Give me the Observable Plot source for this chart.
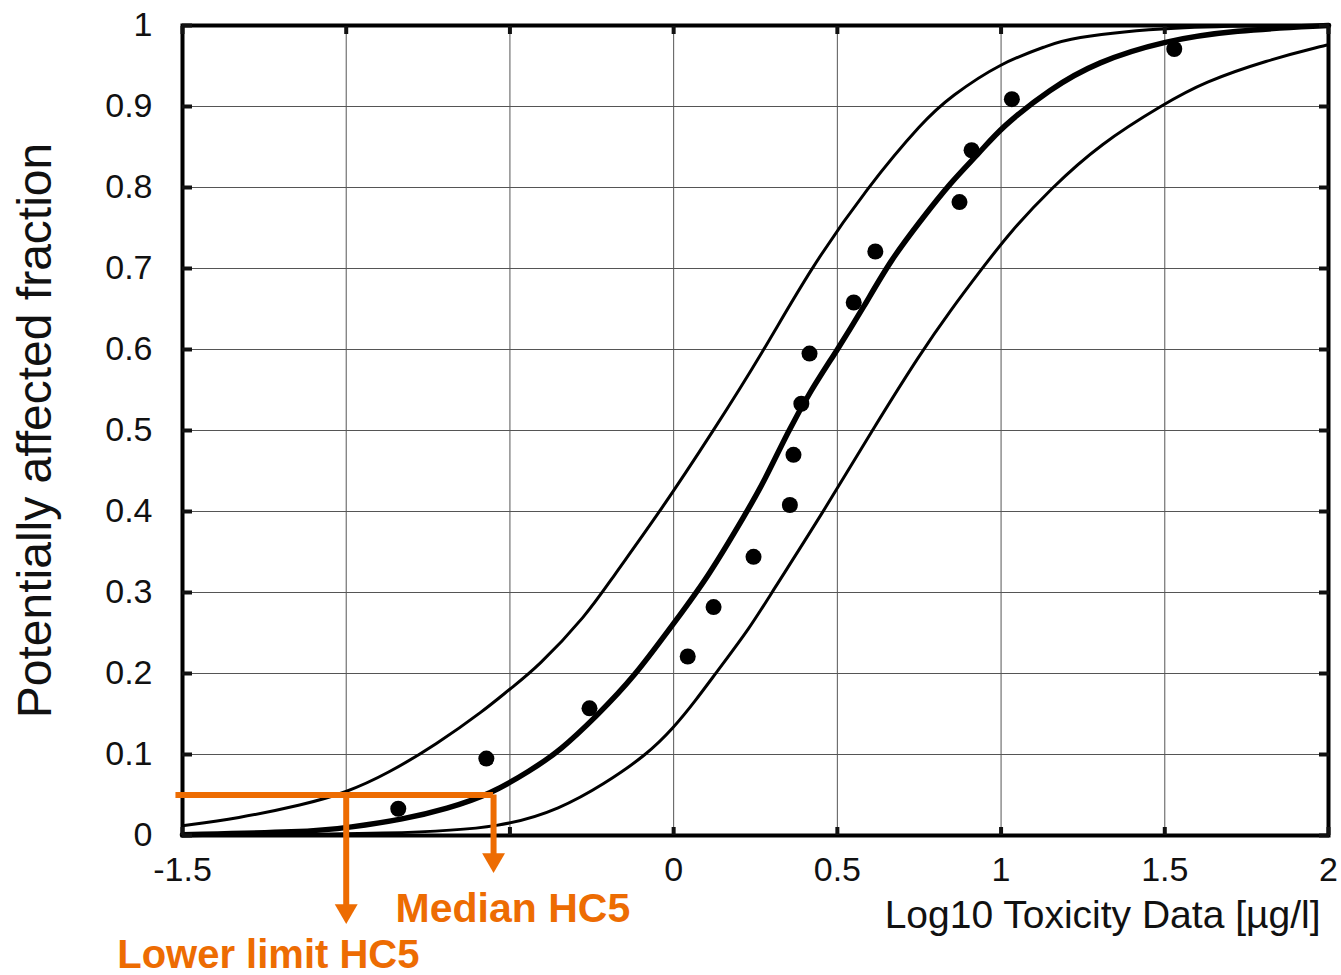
<!DOCTYPE html>
<html><head><meta charset="utf-8">
<script src="https://cdn.jsdelivr.net/npm/d3@7"></script>
<script src="https://cdn.jsdelivr.net/npm/@observablehq/plot@0.6"></script>
<style>body{margin:0;background:#fff;} #chart svg{display:block}</style>
</head><body><div id="chart"></div>
<script>
// Observed toxicity data (log10 µg/l) and plotting positions
const pointX = [-0.841, -0.572, -0.257, 0.043, 0.122, 0.244, 0.355, 0.366, 0.390, 0.415, 0.550, 0.616, 0.873, 0.910, 1.033, 1.529];
const pointY = [0.033, 0.095, 0.157, 0.221, 0.282, 0.344, 0.408, 0.470, 0.533, 0.595, 0.658, 0.721, 0.782, 0.846, 0.909, 0.971];

// Lower-limit (left) confidence curve
const lowerCurveX = [-1.5, -1.334, -1.13, -1.0, -0.875, -0.723, -0.58, -0.5, -0.417, -0.264, -0.193, -0.041, 0.122, 0.270, 0.418, 0.591, 0.764, 0.845, 0.998, 1.15, 1.202, 1.497, 2.0];
const lowerCurveY = [0.012, 0.021, 0.038, 0.053, 0.076, 0.113, 0.154, 0.181, 0.207, 0.273, 0.315, 0.400, 0.500, 0.595, 0.700, 0.800, 0.883, 0.912, 0.954, 0.976, 0.984, 0.999, 1.0];

// Median fitted curve
const medianCurveX = [-1.5, -1.13, -0.987, -0.825, -0.692, -0.56, -0.438, -0.346, -0.234, -0.122, 0.0, 0.102, 0.224, 0.275, 0.351, 0.418, 0.499, 0.580, 0.662, 0.754, 0.845, 0.937, 1.0, 1.15, 1.293, 1.497, 1.71, 2.0];
const medianCurveY = [0.001, 0.004, 0.010, 0.020, 0.033, 0.051, 0.080, 0.105, 0.148, 0.195, 0.262, 0.317, 0.400, 0.436, 0.500, 0.549, 0.599, 0.652, 0.710, 0.759, 0.806, 0.844, 0.874, 0.922, 0.955, 0.981, 0.994, 1.0];

// Upper-limit (right) confidence curve
const upperCurveX = [-1.5, -0.825, -0.519, -0.346, -0.214, -0.081, 0.0, 0.066, 0.128, 0.234, 0.295, 0.458, 0.606, 0.755, 0.845, 0.942, 1.028, 1.15, 1.303, 1.497, 1.619, 1.812, 1.985, 2.0];
const upperCurveY = [0.0, 0.002, 0.010, 0.033, 0.063, 0.100, 0.133, 0.166, 0.200, 0.257, 0.297, 0.400, 0.500, 0.596, 0.648, 0.700, 0.745, 0.798, 0.854, 0.903, 0.930, 0.957, 0.975, 0.976];

// Axis ticks
const xTicks = [-1.5, -1, -0.5, 0, 0.5, 1, 1.5, 2];
const xGrid = [-1, -0.5, 0, 0.5, 1, 1.5];
const xTickLabels = [-1.5, 0, 0.5, 1, 1.5, 2];
const yTicks = [0, 0.1, 0.2, 0.3, 0.4, 0.5, 0.6, 0.7, 0.8, 0.9, 1];
const yGrid = [0.1, 0.2, 0.3, 0.4, 0.5, 0.6, 0.7, 0.8, 0.9];

// HC5 annotation
const hc5Level = 0.05;
const hc5Labels = ["Lower limit HC5", "Median HC5"];
const hc5Values = [-1.0, -0.55];
const hc5ArrowEnds = [-0.109, -0.046];
const hc5LineStart = -1.52;

const yLabel = "Potentially affected fraction";
const xLabel = "Log10 Toxicity Data [µg/l]";

const orange = "#ED6C02";
const points = pointX.map((x, i) => ({x, y: pointY[i]}));
const toRows = (xs, ys) => xs.map((x, i) => ({x, y: ys[i]}));
const lowerCurve = toRows(lowerCurveX, lowerCurveY);
const medianCurve = toRows(medianCurveX, medianCurveY);
const upperCurve = toRows(upperCurveX, upperCurveY);
const hc5 = hc5Labels.map((label, i) => ({label, x: hc5Values[i], tip: hc5ArrowEnds[i]}));
const hc5Line = [{y: hc5Level, x1: hc5LineStart, x2: hc5Values[1]}];

const chart = Plot.plot({
  width: 1341,
  height: 975,
  marginLeft: 182,
  marginRight: 13,
  marginTop: 25,
  marginBottom: 140,
  style: {fontFamily: "'Liberation Sans', Arial, sans-serif", fontSize: "34px", color: "#111", background: "#fff"},
  x: {domain: [-1.5, 2]},
  y: {domain: [0, 1]},
  marks: [
    Plot.gridY(yGrid, {stroke: "#555", strokeOpacity: 1, strokeWidth: 1}),
    Plot.gridX(xGrid, {stroke: "#555", strokeOpacity: 1, strokeWidth: 1}),
    Plot.line(lowerCurve, {x: "x", y: "y", stroke: "#000", strokeWidth: 3, curve: "basis"}),
    Plot.line(upperCurve, {x: "x", y: "y", stroke: "#000", strokeWidth: 3, curve: "basis"}),
    Plot.line(medianCurve, {x: "x", y: "y", stroke: "#000", strokeWidth: 5.5, curve: "basis"}),
    Plot.dot(points, {x: "x", y: "y", r: 8, fill: "#000"}),
    Plot.frame({stroke: "#000", strokeWidth: 4}),
    // inner tick marks
    Plot.axisY(yTicks, {anchor: "left", tickSize: -10, strokeWidth: 4, text: null, label: null}),
    Plot.axisY(yTicks, {anchor: "right", tickSize: -10, strokeWidth: 4, text: null, label: null}),
    Plot.axisX(xTicks, {anchor: "top", tickSize: -8, strokeWidth: 4, text: null, label: null}),
    Plot.axisX(xTicks, {anchor: "bottom", tickSize: -8, strokeWidth: 4, text: null, label: null}),
    // tick labels
    Plot.axisY(yTicks, {anchor: "left", tickSize: 0, tickPadding: 30, label: null, fontSize: 34, tickFormat: d => String(d)}),
    Plot.axisX(xTickLabels, {anchor: "bottom", tickSize: 0, tickPadding: 21, label: null, fontSize: 34, tickFormat: d => String(d)}),
    // axis titles
    Plot.text([yLabel], {frameAnchor: "left", text: d => d, rotate: -90, textAnchor: "middle", lineAnchor: "middle", dx: -147, fontSize: 48, fill: "#111"}),
    Plot.text([xLabel], {frameAnchor: "bottom-right", text: d => d, textAnchor: "end", lineAnchor: "bottom", dx: -8, dy: 92, fontSize: 39, fill: "#111"}),
    // HC5 annotation
    Plot.ruleY(hc5Line, {y: "y", x1: "x1", x2: "x2", stroke: orange, strokeWidth: 6}),
    Plot.ruleX(hc5, {x: "x", y1: hc5Level, y2: "tip", stroke: orange, strokeWidth: 6, insetBottom: 14}),
    Plot.dot(hc5, {x: "x", y: "tip", symbol: "triangle", rotate: 180, r: 8.5, fill: orange, stroke: "none", dy: -13}),
    Plot.text([hc5[0]], {x: "x", frameAnchor: "bottom", text: "label", textAnchor: "start", lineAnchor: "bottom", dx: -229, dy: 132, fontSize: 40, fontWeight: "bold", fill: orange}),
    Plot.text([hc5[1]], {x: "x", frameAnchor: "bottom", text: "label", textAnchor: "start", lineAnchor: "bottom", dx: -98, dy: 86, fontSize: 41, fontWeight: "bold", fill: orange})
  ]
});
document.getElementById("chart").appendChild(chart);
</script>
</body></html>
